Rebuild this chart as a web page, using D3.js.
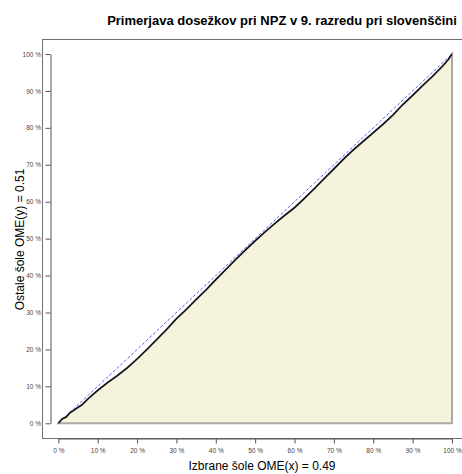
<!DOCTYPE html>
<html>
<head>
<meta charset="utf-8">
<script src="https://cdn.jsdelivr.net/npm/d3@7"></script>
<style>
  body { margin: 0; background: #fff; }
  svg { display: block; font-family: "Liberation Sans", Arial, sans-serif; }
</style>
</head>
<body>
<div id="chart"></div>
<script>
// 1: DATA
const titleText = "Primerjava dosežkov pri NPZ v 9. razredu pri slovenščini";
const xLabel = "Izbrane šole OME(x) = 0.49";
const yLabel = "Ostale šole OME(y) = 0.51";
const tickValues = [0, 10, 20, 30, 40, 50, 60, 70, 80, 90, 100];

// cumulative share (in %) of the selected schools (x) vs the other schools (y)
const curveX = [0, 1, 2, 3, 4, 5, 6, 7.5, 10, 12.5, 15, 17.5, 20, 22.5, 25, 27.5, 30, 32.5, 35, 37.5,
  40, 42.5, 45, 47.5, 50, 52.5, 55, 57.5, 60, 62.5, 65, 67.5, 70, 72.5, 75, 77.5, 80, 82.5, 85,
  87.5, 90, 92.5, 95, 97.5, 99, 100];
const curveY = [0, 1.2, 1.7, 2.9, 3.6, 4.3, 5.0, 6.6, 8.9, 11.0, 12.9, 15.0, 17.4, 20.0, 22.7, 25.4, 28.3, 30.8, 33.5, 36.1,
  38.9, 41.6, 44.3, 46.9, 49.4, 51.8, 54.1, 56.3, 58.4, 60.9, 63.5, 66.2, 68.9, 71.6, 74.1, 76.4, 78.7, 81.0, 83.5,
  86.3, 88.8, 91.4, 93.9, 96.6, 98.4, 100];

// 2: SVG + SCALES
const W = 462, H = 474;
const svg = d3.select("#chart").append("svg")
  .attr("width", W)
  .attr("height", H);

const x = d3.scaleLinear().domain([0, 100]).range([58.3, 452]);
const y = d3.scaleLinear().domain([0, 100]).range([423.3, 54]);

const points = curveX.map((v, i) => [v, curveY[i]]);

// 3: FILLED AREA under the curve
const poly = points.concat([[100, 0]]);
svg.append("path")
  .attr("d", d3.line().x(d => x(d[0])).y(d => y(d[1]))(poly) + "Z")
  .attr("fill", "#f5f3dc")
  .attr("stroke", "#aaaaaa")
  .attr("stroke-width", 2);

// 4: DIAGONAL (equality line)
svg.append("path")
  .attr("d", d3.line().x(d => x(d[0])).y(d => y(d[1]))([[0, 0], [100, 100]]))
  .attr("fill", "none")
  .attr("stroke", "#5a5aff")
  .attr("stroke-width", 1)
  .attr("stroke-dasharray", "3,2");

// 5: CURVE
svg.append("path")
  .attr("d", d3.line().x(d => x(d[0])).y(d => y(d[1]))(points))
  .attr("fill", "none")
  .attr("stroke", "#111")
  .attr("stroke-width", 1.5);

// 6: FRAME
svg.append("rect")
  .attr("x", 42.5)
  .attr("y", 39.5)
  .attr("width", 500)
  .attr("height", 399)
  .attr("fill", "none")
  .attr("stroke", "#707070")
  .attr("stroke-width", 1);

// 7: AXES
const yAxis = svg.append("g")
  .attr("transform", "translate(50.5,0)")
  .call(d3.axisLeft(y).tickValues(tickValues).tickSize(5).tickSizeOuter(0)
    .tickFormat(d => d + " %"));

const xAxis = svg.append("g")
  .attr("transform", "translate(0,438.5)")
  .call(d3.axisBottom(x).tickValues(tickValues).tickSize(5).tickSizeOuter(0)
    .tickFormat(d => d + " %"));

[yAxis, xAxis].forEach(g => {
  g.select(".domain").attr("stroke", "#555");
  g.selectAll(".tick line").attr("stroke", "#555");
  g.selectAll(".tick text")
    .attr("fill", "#444")
    .style("font-size", "6.5px")
    .style("font-family", "'Liberation Sans', Arial, sans-serif");
});
yAxis.selectAll(".tick text").attr("x", -9.5);
xAxis.selectAll(".tick text").attr("y", 10).attr("dy", "0.71em");

// 8: LABELS
svg.append("text")
  .attr("x", 282)
  .attr("y", 25)
  .attr("text-anchor", "middle")
  .style("font-size", "13px")
  .style("font-weight", "bold")
  .text(titleText);

svg.append("text")
  .attr("x", 262)
  .attr("y", 470)
  .attr("text-anchor", "middle")
  .style("font-size", "12px")
  .text(xLabel);

svg.append("text")
  .attr("transform", "translate(24,239.5) rotate(-90)")
  .attr("text-anchor", "middle")
  .style("font-size", "12px")
  .text(yLabel);
</script>
</body>
</html>
